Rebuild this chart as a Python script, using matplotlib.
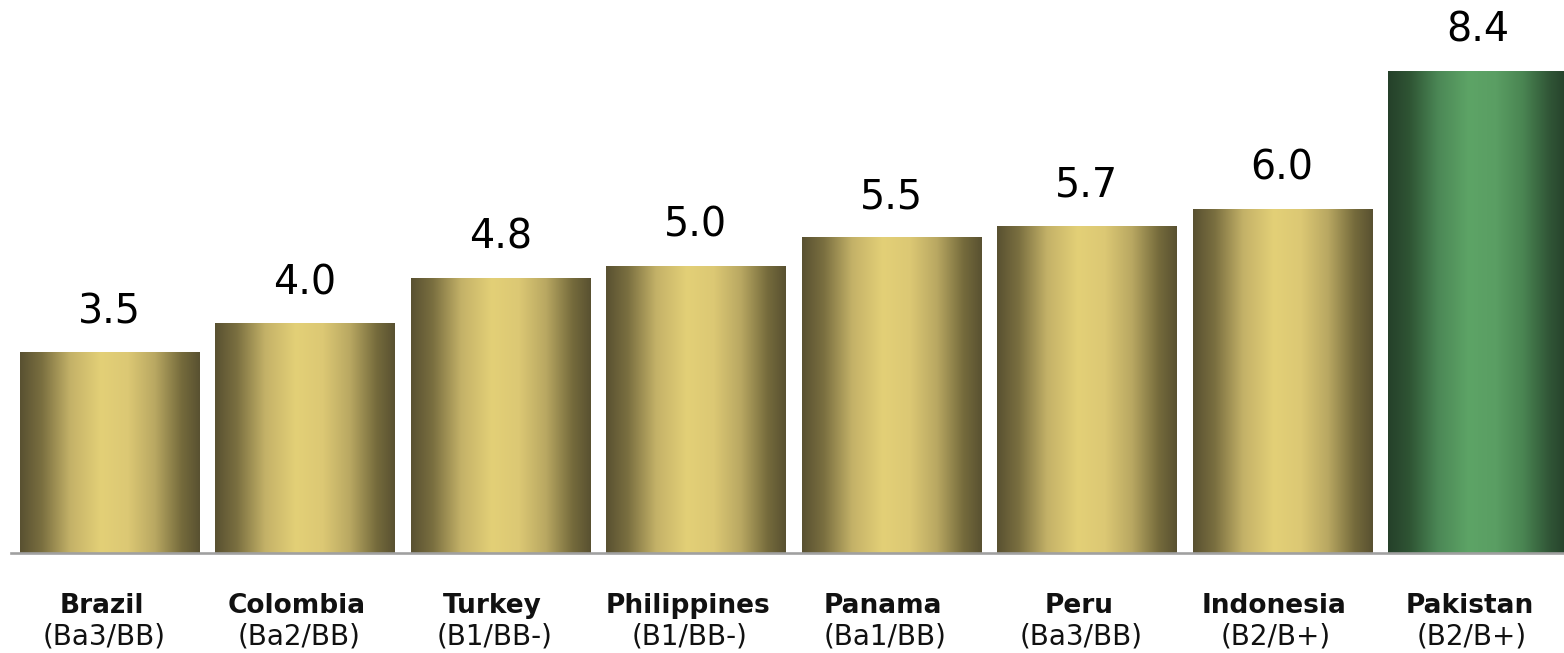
import numpy as np
import matplotlib
matplotlib.use("Agg")
import matplotlib.pyplot as plt
from matplotlib.colors import LinearSegmentedColormap
from matplotlib.transforms import blended_transform_factory

countries = ["Brazil", "Colombia", "Turkey", "Philippines", "Panama", "Peru", "Indonesia", "Pakistan"]
ratings = ["(Ba3/BB)", "(Ba2/BB)", "(B1/BB-)", "(B1/BB-)", "(Ba1/BB)", "(Ba3/BB)", "(B2/B+)", "(B2/B+)"]
values = [3.5, 4.0, 4.8, 5.0, 5.5, 5.7, 6.0, 8.4]
highlight = "Pakistan"

W, H, DPI = 1564, 653, 100
fig = plt.figure(figsize=(W / DPI, H / DPI), dpi=DPI)
fig.patch.set_facecolor("white")

# axes: baseline 100 px above the bottom edge, line starting 11 px from the left
ax = fig.add_axes([11 / W, 100 / H, (W - 11) / W, 553 / H])
ax.axis("off")

gold = LinearSegmentedColormap.from_list(
    "gold",
    [(0.0, "#595131"), (0.12, "#7a6f40"), (0.28, "#c4b268"), (0.45, "#e3d077"),
     (0.6, "#dcc874"), (0.75, "#b9a862"), (0.9, "#756b3c"), (1.0, "#595131")])
green = LinearSegmentedColormap.from_list(
    "green",
    [(0.0, "#25402a"), (0.12, "#2f5534"), (0.28, "#4c8856"), (0.45, "#5da466"),
     (0.6, "#5a9e63"), (0.75, "#4a8552"), (0.9, "#305536"), (1.0, "#25402a")])

x = np.arange(len(countries))
bars = ax.bar(x, values, width=0.916, color="none", edgecolor="none")

ramp = np.linspace(0, 1, 256).reshape(1, -1)
for bar, name in zip(bars, countries):
    x0, y0 = bar.get_x(), bar.get_y()
    img = ax.imshow(ramp, cmap=green if name == highlight else gold,
                    extent=[x0, x0 + bar.get_width(), y0, y0 + bar.get_height()],
                    aspect="auto", interpolation="bilinear", zorder=2)
    img.set_clip_path(bar)

ax.set_xlim(-0.504, 7.443)
ax.set_ylim(0, 553 / 57.38)

ax.axhline(0, color="#a0a0a0", lw=1.9, zorder=3, clip_on=False)

for xi, v in zip(x, values):
    ax.annotate(f"{v:.1f}", (xi, v), xytext=(0, 21), textcoords="offset points",
                ha="center", va="baseline", fontsize=28.5, color="#000000",
                fontfamily="DejaVu Sans")

tr = blended_transform_factory(ax.transData, fig.transFigure)
for xi, name, rating in zip(x, countries, ratings):
    fig.text(xi - 0.04, 40 / H, name, transform=tr, ha="center", va="baseline",
             fontsize=19, fontweight="bold", color="#111111")
    fig.text(xi - 0.03, 8 / H, rating, transform=tr, ha="center", va="baseline",
             fontsize=20, color="#111111")

fig.savefig("out.png", dpi=DPI, facecolor="white")
